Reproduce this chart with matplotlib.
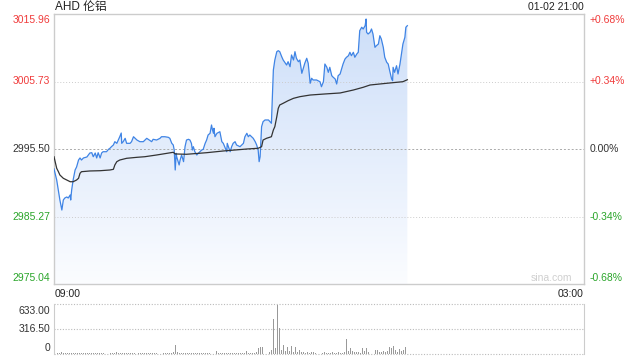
import numpy as np
import matplotlib
matplotlib.use("Agg")
import matplotlib.pyplot as plt

# --- data (minutes after 09:00) ---
prev_close = 2995.50
price_ticks = [3015.96, 3005.73, 2995.50, 2985.27, 2975.04]
pct_labels = ["+0.68%", "+0.34%", "0.00%", "-0.34%", "-0.68%"]
vol_ticks = [633.00, 316.50, 0]
vol_labels = ["633.00", "316.50", "0"]

minutes = [0, 5.5, 12, 16, 19, 22, 26, 29, 33, 34, 36, 39, 43, 46, 50, 53, 56, 60, 67, 70,
           73, 77, 80, 84, 87, 90, 94, 97, 100, 107, 111, 114, 117, 121, 124, 128, 131, 134,
           137, 138, 141, 145, 148, 155, 158, 162, 169, 175,
           182, 189, 199, 202, 209, 216, 219, 226, 233, 236, 240, 243, 245, 247, 249, 250,
           253, 255, 257, 260, 264, 267, 270, 274, 277, 280, 282, 284, 287, 291, 294, 301,
           304, 308, 311, 314, 318, 321, 323, 325, 326, 328, 332, 338, 342, 345, 352, 353,
           359, 362, 365, 369,
           372, 379, 386, 389, 393, 396, 399, 406, 410, 413, 416, 418, 420, 423, 426, 430,
           437, 440, 443, 445, 447, 450, 454, 457, 460, 464, 467, 474, 477, 481, 484, 488,
           491, 494, 498, 501, 505, 508, 511, 515, 518, 520, 522, 525, 528, 535, 542, 545,
           549, 552,
           556, 559, 562, 566, 569, 573, 576, 579, 583, 586, 589, 593, 596, 600, 603, 606,
           610, 613, 617, 620, 623, 627, 630, 634, 636, 637, 640, 644, 647, 650, 654, 657,
           661, 664, 667, 671, 674, 678, 681, 684, 688, 690, 691, 694, 698, 701, 705, 708,
           711, 715, 717, 720]
price = [2992.50, 2990.80, 2987.77, 2986.25, 2987.77, 2988.07, 2988.23, 2988.07, 2988.53,
         2987.77, 2989.29, 2990.80, 2992.32, 2992.77, 2993.83, 2994.14, 2993.83, 2994.14,
         2994.29, 2994.59, 2994.89, 2994.94, 2994.33, 2994.89, 2994.14, 2994.94, 2994.14,
         2994.89, 2995.09, 2995.09, 2995.45, 2995.61, 2995.85, 2996.11, 2996.61, 2996.36,
         2996.86, 2997.36, 2997.92, 2996.36, 2996.61, 2997.12, 2996.36, 2996.36, 2996.61,
         2997.36, 2996.86, 2996.61,
         2996.61, 2997.12, 2996.61, 2996.97, 2996.86, 2997.12, 2997.36, 2997.36, 2997.27,
         2997.12, 2996.36, 2996.11, 2995.35, 2992.32, 2994.85, 2994.33, 2993.58, 2993.08,
         2993.83, 2994.59, 2993.58, 2995.85, 2996.86, 2996.97, 2996.86, 2996.36, 2995.35,
         2995.85, 2995.09, 2994.59, 2994.85, 2995.35, 2995.45, 2996.36, 2996.86, 2997.62,
         2997.88, 2999.14, 2998.38, 2997.88, 2998.64, 2997.36, 2997.88, 2998.12, 2996.61,
         2996.36, 2995.09, 2996.36, 2995.09, 2995.85, 2996.36, 2996.61,
         2996.11, 2995.85, 2996.36, 2997.36, 2997.88, 2997.36, 2997.62, 2997.12, 2996.61,
         2996.11, 2995.35, 2993.58, 2994.33, 2998.88, 2999.64, 2999.90, 2999.90, 2999.64,
         2999.40, 3003.43, 3007.47, 3008.99, 3010.25, 3010.40, 3010.25, 3009.49, 3008.99,
         3008.23, 3008.73, 3007.97, 3009.75, 3008.99, 3010.25, 3009.25, 3008.73, 3008.99,
         3006.97, 3007.73, 3008.49, 3009.25, 3008.49, 3006.97, 3005.46, 3006.22, 3005.96,
         3005.96, 3005.70, 3004.94, 3005.70, 3008.38,
         3007.88, 3007.12, 3007.88, 3006.61, 3006.37, 3006.11, 3005.35, 3006.61, 3006.87,
         3007.62, 3008.38, 3009.14, 3009.40, 3009.64, 3010.16, 3009.64, 3010.16, 3009.40,
         3009.90, 3010.16, 3013.43, 3013.95, 3013.69, 3014.19, 3015.20, 3013.19, 3012.93,
         3013.19, 3013.69, 3012.93, 3010.91, 3011.16, 3011.41, 3012.67, 3012.17, 3010.91,
         3009.40, 3008.64, 3008.38, 3007.37, 3006.11, 3005.85, 3007.88, 3007.12, 3008.12,
         3006.87, 3008.38, 3009.90, 3011.41, 3012.43, 3013.95, 3014.19]

avg_minutes = [0, 5.5, 9, 12, 19, 26, 33, 39, 46, 50, 53, 56, 73, 94, 114, 121, 124, 128,
               134, 148, 169, 185, 209, 243, 247, 270, 311, 345, 369, 393, 416, 423, 426,
               433, 443, 447, 450, 454, 457, 460, 467, 477, 488, 501, 522, 552, 583, 610,
               630, 644, 678, 711, 720]
avg_price = [2994.33, 2992.57, 2992.06, 2991.56, 2991.06, 2990.80, 2990.54, 2990.54,
             2990.80, 2991.06, 2991.82, 2992.06, 2992.17, 2992.21, 2992.32, 2992.42,
             2993.08, 2993.58, 2993.83, 2994.09, 2994.24, 2994.33, 2994.59, 2995.00,
             2994.75, 2994.70, 2994.94, 2995.20, 2995.35, 2995.50, 2995.61, 2995.85,
             2996.86, 2997.12, 2997.36, 2998.38, 2998.88, 3000.40, 3001.67, 3002.17,
             3002.43, 3002.82, 3003.18, 3003.43, 3003.68, 3003.84, 3003.99, 3004.44,
             3004.85, 3005.20, 3005.46, 3005.70, 3006.00]

# volume in 4-minute buckets
volume = [30, 22, 18, 15, 20, 12, 16, 10, 14, 12,
          18, 10, 12, 8, 15, 10, 9, 14, 11, 8,
          10, 12, 8, 9, 14, 10, 7, 9, 12, 8,
          10, 15, 30, 12, 9, 8, 10, 7, 9, 11,
          8, 10, 6, 9, 12, 8, 7, 10, 8, 9,
          7, 9, 11, 8, 10, 6, 9, 12, 15, 10,
          14, 20, 120, 25, 15, 10, 12, 18, 9, 10,
          8, 11, 9, 7, 10, 14, 8, 9, 12, 10,
          9, 11, 15, 40, 12, 10, 8, 14, 10, 9,
          11, 8, 10, 12, 9, 14, 10, 12, 38, 15,
          12, 10, 18, 25, 70, 90, 85, 240, 60, 40,
          30, 55, 440, 70, 620, 325, 45, 114, 35, 93,
          40, 100, 30, 90, 25, 50, 20, 30, 18, 25,
          15, 20, 30, 12, 18, 25, 60, 15, 20, 12,
          18, 14, 25, 10, 15, 20, 12, 18, 30, 186,
          40, 75, 35, 20, 25, 30, 18, 75, 40, 75,
          30, 25, 50, 40, 45, 55, 30, 25, 35, 20,
          40, 85, 70, 95, 45, 30, 60, 35, 50, 90]
vol_minutes = np.arange(len(volume)) * 4

RED = "#f03b3b"
GREEN = "#2aa52a"
DARK = "#333333"
BORDER = "#cccccc"
FONT = ["Liberation Sans", "Noto Sans CJK SC", "DejaVu Sans"]
plt.rcParams["font.family"] = FONT

fig = plt.figure(figsize=(6.4, 3.6), dpi=100)
ax = fig.add_axes([54 / 640, 1 - 284 / 360, 530 / 640, 270 / 360])
axv = fig.add_axes([54 / 640, 1 - 354 / 360, 530 / 640, 50 / 360])

lo, hi = price_ticks[-1], price_ticks[0]

# gradient fill under price line
poly = ax.fill_between(minutes, price, lo, color="none", lw=0)
grad = np.linspace(0, 1, 256).reshape(-1, 1)
top_c = np.array([0.80, 0.87, 0.975])
bot_c = np.array([0.985, 0.99, 1.0])
img_arr = bot_c + (top_c - bot_c) * grad[..., None] * np.ones((1, 1, 3))
img = ax.imshow(img_arr, extent=[0, 1080, lo, hi], origin="lower", aspect="auto",
                zorder=1, interpolation="bilinear")
img.set_clip_path(poly.get_paths()[0], transform=ax.transData)

ax.plot(minutes, price, color="#3f84e5", lw=0.9, zorder=3)
ax.plot(avg_minutes, avg_price, color=DARK, lw=0.9, zorder=4)

for p in (price_ticks[1], price_ticks[3]):
    ax.axhline(p, color="#cccccc", lw=0.7, ls=(0, (1, 2)), zorder=2)
ax.axhline(prev_close, color="#aaaaaa", lw=0.7, ls=(0, (2, 2)), zorder=2)

ax.set_xlim(0, 1080)
ax.set_ylim(lo, hi)
ax.set_xticks([])
ax.set_yticks([])
for s in ax.spines.values():
    s.set_color(BORDER)
    s.set_linewidth(1)

colors = [RED, RED, DARK, GREEN, GREEN]
offsets = [-4.3, 0, 0, 0, 4.3]
for p, lab, c, off in zip(price_ticks, pct_labels, colors, offsets):
    ax.annotate(f"{p:.2f}", xy=(0, p), xycoords=("axes fraction", "data"),
                xytext=(-2.5, off), textcoords="offset points",
                ha="right", va="center", fontsize=7.5, color=c)
    ax.annotate(lab, xy=(1, p), xycoords=("axes fraction", "data"),
                xytext=(4, off), textcoords="offset points",
                ha="left", va="center", fontsize=7.5, color=c)

ax.text(0.001, 1.027, "AHD 伦铝", transform=ax.transAxes, ha="left", va="center",
        fontsize=8.5, color="#222222")
ax.text(1.0, 1.027, "01-02 21:00", transform=ax.transAxes, ha="right", va="center",
        fontsize=7.5, color="#222222")
ax.text(0.002, -0.018, "09:00", transform=ax.transAxes, ha="left", va="top",
        fontsize=7.5, color="#222222")
ax.text(1.0, -0.018, "03:00", transform=ax.transAxes, ha="right", va="top",
        fontsize=7.5, color="#222222")
ax.text(0.978, 0.022, "sina.com", transform=ax.transAxes, ha="right", va="center",
        fontsize=7.5, color="#cfcfcf")

# volume
axv.bar(vol_minutes, volume, width=1.8, color="#999999", lw=0, zorder=3)
axv.set_xlim(0, 1080)
axv.set_ylim(0, 633)
axv.set_xticks([])
axv.set_yticks([])
for side in ("top", "bottom"):
    axv.spines[side].set_visible(False)
for side in ("left", "right"):
    axv.spines[side].set_color(BORDER)
for v in vol_ticks:
    axv.axhline(v, color="#bbbbbb", lw=0.8, ls=(0, (1, 1.5)), clip_on=False, zorder=1)
voffs = [-5, 0, 4.3]
for v, lab, off in zip(vol_ticks, vol_labels, voffs):
    axv.annotate(lab, xy=(0, v), xycoords=("axes fraction", "data"),
                 xytext=(-2.5, off), textcoords="offset points",
                 ha="right", va="center", fontsize=7.5, color=DARK)

fig.savefig("out.png", dpi=100)
